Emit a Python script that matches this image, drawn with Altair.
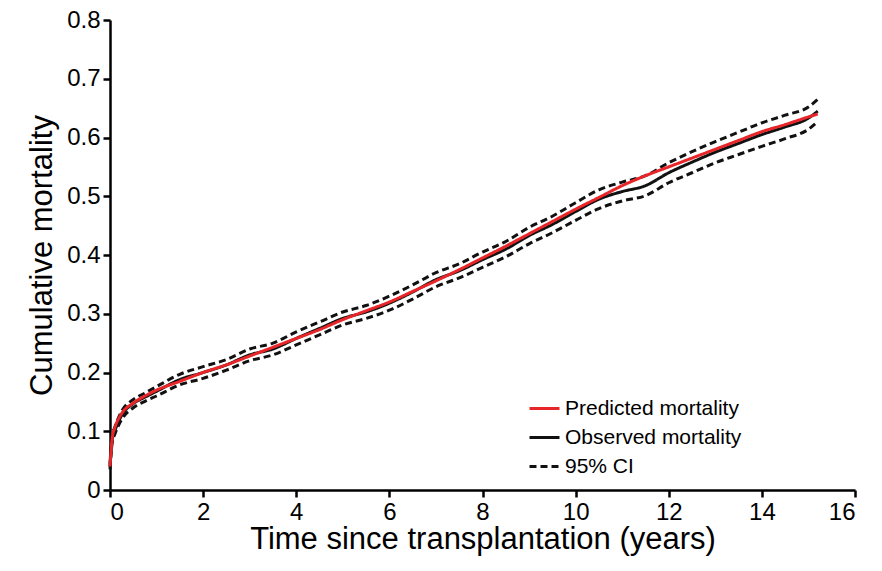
import altair as alt
import pandas as pd

t = [0, 0.05, 0.1, 0.25, 0.5, 0.75, 1, 1.5, 2, 2.5, 3, 3.5, 4, 4.5, 5, 5.5, 6, 6.5, 7, 7.5, 8, 8.5, 9, 9.5, 10, 10.5, 11, 11.5, 12, 12.5, 13, 13.5, 14, 14.5, 15, 15.2]
pred = [0.04, 0.09, 0.105, 0.13, 0.148, 0.16, 0.17, 0.185, 0.2, 0.213, 0.228, 0.243, 0.258, 0.273, 0.29, 0.305, 0.32, 0.338, 0.356, 0.375, 0.395, 0.415, 0.436, 0.457, 0.478, 0.498, 0.518, 0.535, 0.55, 0.565, 0.58, 0.595, 0.61, 0.622, 0.635, 0.64]
obs = [0.04, 0.088, 0.1, 0.127, 0.147, 0.158, 0.168, 0.188, 0.2, 0.213, 0.23, 0.24, 0.258, 0.275, 0.292, 0.303, 0.318, 0.337, 0.358, 0.373, 0.392, 0.41, 0.433, 0.452, 0.474, 0.495, 0.508, 0.518, 0.54, 0.558, 0.575, 0.59, 0.605, 0.618, 0.633, 0.645]
lo = [0.035, 0.082, 0.094, 0.12, 0.14, 0.151, 0.16, 0.179, 0.19, 0.204, 0.22, 0.23, 0.247, 0.264, 0.281, 0.292, 0.306, 0.325, 0.346, 0.361, 0.379, 0.397, 0.419, 0.438, 0.459, 0.479, 0.492, 0.501, 0.523, 0.54, 0.557, 0.571, 0.585, 0.598, 0.614, 0.627]
hi = [0.045, 0.094, 0.106, 0.134, 0.154, 0.165, 0.176, 0.197, 0.21, 0.222, 0.24, 0.25, 0.269, 0.286, 0.303, 0.314, 0.33, 0.349, 0.37, 0.385, 0.405, 0.423, 0.447, 0.466, 0.489, 0.511, 0.524, 0.535, 0.557, 0.576, 0.593, 0.609, 0.625, 0.638, 0.652, 0.665]

rows = []
for name, vals, grp in [("95% CI", lo, "lo"), ("95% CI", hi, "hi"), ("Observed mortality", obs, "obs"), ("Predicted mortality", pred, "pred")]:
    for i, (a, b) in enumerate(zip(t, vals)):
        rows.append({"t": a, "v": b, "s": name, "g": grp, "o": i})
df = pd.DataFrame(rows)

dom = ["Predicted mortality", "Observed mortality", "95% CI"]
chart = alt.Chart(df).mark_line(strokeWidth=3, interpolate="monotone").encode(
    x=alt.X("t:Q", scale=alt.Scale(domain=[0, 16]), axis=alt.Axis(values=list(range(0, 17, 2)), title="Time since transplantation (years)")),
    y=alt.Y("v:Q", scale=alt.Scale(domain=[0, 0.8]), axis=alt.Axis(values=[0, 0.1, 0.2, 0.3, 0.4, 0.5, 0.6, 0.7, 0.8], format="~g", title="Cumulative mortality")),
    color=alt.Color("s:N", scale=alt.Scale(domain=dom, range=["#e8262a", "#111111", "#111111"]),
                    legend=alt.Legend(title=None, orient="none", legendX=418, legendY=372, symbolType="stroke", symbolSize=900, symbolStrokeWidth=3, labelFontSize=21, labelLimit=400, labelFont="Liberation Sans", labelColor="black", rowPadding=2)),
    strokeDash=alt.StrokeDash("s:N", scale=alt.Scale(domain=dom, range=[[1, 0], [1, 0], [7, 4]])),
    detail="g:N",
    order="o:Q",
).properties(width=745, height=470, autosize=alt.AutoSizeParams(type="none"),
             padding={"left": 102, "top": 12, "right": 19, "bottom": 73}
).configure_view(stroke=None).configure_axis(
    grid=False, domainColor="black", domainWidth=2.5, tickColor="black", tickWidth=2.5, tickSize=7,
    labelFontSize=24, titleFontSize=31, labelFont="Liberation Sans", titleFont="Liberation Sans",
    titleFontWeight="normal", labelColor="black", titleColor="black", labelPadding=3
).configure_axisY(titlePadding=8).configure_axisX(titlePadding=0)

chart.save("out.html", embed_options={"renderer": "svg", "actions": False})
